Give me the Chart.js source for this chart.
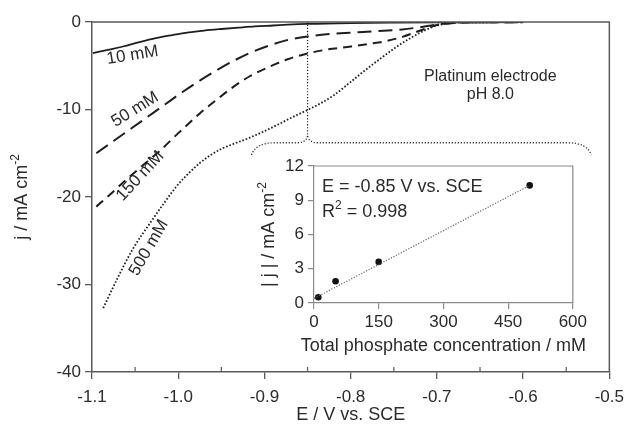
<!DOCTYPE html>
<html>
<head>
<meta charset="utf-8">
<script src="https://cdn.jsdelivr.net/npm/chart.js@4.4.0/dist/chart.umd.min.js"></script>
<style>
  html, body { margin: 0; padding: 0; background: #fff; }
  #wrap { position: relative; width: 632px; height: 435px; }
  #mainChart { position: absolute; left: 0; top: 0; }
  #insetChart { position: absolute; left: 240px; top: 150px; }
</style>
</head>
<body>
<div id="wrap">
  <canvas id="mainChart" width="632" height="435"></canvas>
  <canvas id="insetChart" width="350" height="215"></canvas>
</div>
<script>
// Polarisation curves, one per phosphate concentration (E in V vs. SCE, j in mA cm-2)
const potential10 = [-1.099, -1.08, -1.064, -1.045, -1.026, -1.007, -0.988, -0.97, -0.95, -0.93, -0.911, -0.89, -0.873, -0.85, -0.8, -0.75, -0.7, -0.6];
const current10 = [-3.55, -3.15, -2.8, -2.3, -1.85, -1.5, -1.19, -0.98, -0.8, -0.64, -0.5, -0.4, -0.31, -0.22, -0.12, -0.07, -0.04, -0.02];

const potential50 = [-1.095, -1.075, -1.055, -1.035, -1.015, -0.995, -0.975, -0.955, -0.935, -0.915, -0.895, -0.875, -0.85, -0.825, -0.8, -0.77, -0.74, -0.72, -0.7, -0.68, -0.65, -0.6];
const current50 = [-15.0, -13.6, -12.2, -10.8, -9.4, -8.0, -6.7, -5.5, -4.4, -3.45, -2.7, -2.1, -1.65, -1.38, -1.22, -1.05, -0.85, -0.6, -0.3, -0.1, -0.03, -0.02];

const potential150 = [-1.095, -1.08, -1.06, -1.04, -1.02, -1.0, -0.99, -0.975, -0.957, -0.938, -0.917, -0.894, -0.873, -0.85, -0.8275, -0.8, -0.775, -0.76, -0.74, -0.72, -0.7, -0.68, -0.65, -0.6];
const current150 = [-21.1, -19.8, -18.0, -16.3, -14.6, -12.7, -11.8, -10.45, -9.0, -7.55, -6.2, -5.1, -4.25, -3.6, -3.15, -2.8, -2.45, -2.2, -1.7, -1.0, -0.35, -0.1, -0.03, -0.02];

const potential500 = [-1.087, -1.07, -1.053, -1.03, -1.015, -1.003, -0.99, -0.976, -0.963, -0.95, -0.935, -0.919, -0.905, -0.89, -0.87, -0.85, -0.835, -0.82, -0.8, -0.785, -0.765, -0.747, -0.73, -0.715, -0.7, -0.68, -0.65, -0.6];
const current500 = [-32.7, -29.2, -26.0, -22.6, -20.5, -18.9, -17.5, -16.2, -15.25, -14.5, -13.9, -13.3, -12.7, -12.0, -11.0, -10.05, -9.3, -8.4, -6.85, -5.65, -4.15, -2.85, -1.8, -1.0, -0.4, -0.1, -0.03, -0.02];

// where the inset values are taken
const markerPotential = [-0.85, -0.85];
const markerCurrent = [0, -12.75];

// curve labels: text, E, j, angle in degrees
const curveLabels = [
  ['10 mM', -1.053, -3.8, -9],
  ['50 mM', -1.05, -10.0, -32],
  ['150 mM', -1.044, -17.6, -47],
  ['500 mM', -1.034, -25.8, -60]
];

// inset: |j| at -0.85 V against total phosphate
const concentration = [10, 50, 150, 500];
const absCurrent = [0.5, 1.9, 3.6, 10.3];
const fitConcentration = [0, 500];
const fitCurrent = [0.4, 10.3];

const ink = '#2b2b2b';
const axisGrey = '#5a5a5a';
const fontFamily = '"Liberation Sans", Arial, sans-serif';

function toPoints(xs, ys) {
  return xs.map((x, i) => ({ x: x, y: ys[i] }));
}

function curve(xs, ys, dash, width) {
  return {
    data: toPoints(xs, ys),
    showLine: true,
    borderColor: '#1e1e1e',
    borderWidth: width,
    borderDash: dash,
    pointRadius: 0,
    cubicInterpolationMode: 'monotone',
    fill: false
  };
}

// text with raised parts, e.g. cm-2
function drawRich(ctx, parts, x, y, size, align) {
  const small = Math.round(size * 0.65);
  let total = 0;
  parts.forEach(p => {
    ctx.font = (p.sup ? small : size) + 'px ' + fontFamily;
    p.w = ctx.measureText(p.t).width;
    total += p.w;
  });
  let cx = align === 'center' ? x - total / 2 : x;
  ctx.textAlign = 'left';
  ctx.textBaseline = 'alphabetic';
  parts.forEach(p => {
    ctx.font = (p.sup ? small : size) + 'px ' + fontFamily;
    ctx.fillText(p.t, cx, p.sup ? y - size * 0.42 : y);
    cx += p.w;
  });
}

const mainDecor = {
  id: 'mainDecor',
  afterDraw(chart) {
    const ctx = chart.ctx;
    const area = chart.chartArea;
    const xs = chart.scales.x;
    const ys = chart.scales.y;
    ctx.save();

    // top and right frame
    ctx.strokeStyle = axisGrey;
    ctx.lineWidth = 1.5;
    ctx.beginPath();
    ctx.moveTo(area.left, area.top);
    ctx.lineTo(area.right, area.top);
    ctx.lineTo(area.right, area.bottom);
    ctx.stroke();

    // minor ticks pointing inwards
    ctx.lineWidth = 1.2;
    [-1.05, -0.95, -0.85, -0.75, -0.65, -0.55].forEach(v => {
      const px = xs.getPixelForValue(v);
      ctx.beginPath();
      ctx.moveTo(px, area.bottom);
      ctx.lineTo(px, area.bottom - 5);
      ctx.stroke();
    });

    // brace under the marker line
    const L = xs.getPixelForValue(-0.915);
    const R = xs.getPixelForValue(-0.521);
    const T = xs.getPixelForValue(-0.85);
    const bar = ys.getPixelForValue(-13.8);
    const ends = ys.getPixelForValue(-15.2);
    const tip = ys.getPixelForValue(-12.75);
    ctx.strokeStyle = '#333';
    ctx.lineWidth = 1.3;
    ctx.setLineDash([1.2, 1.8]);
    ctx.beginPath();
    ctx.moveTo(L, ends);
    ctx.quadraticCurveTo(L + 4, bar, L + 24, bar);
    ctx.lineTo(T - 10, bar);
    ctx.quadraticCurveTo(T, bar, T, tip);
    ctx.quadraticCurveTo(T, bar, T + 10, bar);
    ctx.lineTo(R - 24, bar);
    ctx.quadraticCurveTo(R - 4, bar, R, ends);
    ctx.stroke();
    ctx.setLineDash([]);

    // curve labels
    ctx.fillStyle = ink;
    ctx.font = '17px ' + fontFamily;
    ctx.textAlign = 'center';
    ctx.textBaseline = 'middle';
    curveLabels.forEach(([text, e, j, angle]) => {
      ctx.save();
      ctx.translate(xs.getPixelForValue(e), ys.getPixelForValue(j));
      ctx.rotate(angle * Math.PI / 180);
      ctx.fillText(text, 0, 0);
      ctx.restore();
    });

    // electrode note
    ctx.font = '16px ' + fontFamily;
    ctx.fillText('Platinum electrode', xs.getPixelForValue(-0.638), ys.getPixelForValue(-6.2));
    ctx.fillText('pH 8.0', xs.getPixelForValue(-0.638), ys.getPixelForValue(-8.25));

    // axis titles
    drawRich(ctx, [{ t: 'E / V vs. SCE' }], (area.left + area.right) / 2, 420, 18, 'center');
    ctx.save();
    ctx.translate(27, (area.top + area.bottom) / 2);
    ctx.rotate(-Math.PI / 2);
    drawRich(ctx, [{ t: 'j / mA cm' }, { t: '-2', sup: true }], 0, 0, 18, 'center');
    ctx.restore();

    ctx.restore();
  }
};

new Chart(document.getElementById('mainChart'), {
  type: 'scatter',
  data: {
    datasets: [
      curve(potential10, current10, [], 1.8),
      curve(potential50, current50, [14, 7], 2),
      curve(potential150, current150, [9, 6], 2),
      curve(potential500, current500, [1.6, 1.9], 1.8),
      curve(markerPotential, markerCurrent, [1.2, 1.8], 1.2)
    ]
  },
  options: {
    responsive: false,
    animation: false,
    layout: { padding: { top: 22, right: 17, left: 0, bottom: 0 } },
    plugins: { legend: { display: false }, tooltip: { enabled: false } },
    scales: {
      x: {
        type: 'linear',
        min: -1.1,
        max: -0.5,
        ticks: {
          stepSize: 0.1,
          callback: v => Number(v).toFixed(1),
          color: ink,
          font: { family: fontFamily, size: 17 },
          padding: 8,
          maxRotation: 0
        },
        grid: { drawOnChartArea: false, tickLength: 7, color: axisGrey, lineWidth: 1.3 },
        border: { color: axisGrey, width: 1.5 },
        afterFit: s => { s.height = 63; }
      },
      y: {
        type: 'linear',
        min: -40,
        max: 0,
        ticks: {
          stepSize: 10,
          color: ink,
          font: { family: fontFamily, size: 17 },
          padding: 4
        },
        grid: { drawOnChartArea: false, tickLength: 7, color: axisGrey, lineWidth: 1.3 },
        border: { color: axisGrey, width: 1.5 },
        afterFit: s => { s.width = 92; }
      }
    }
  },
  plugins: [mainDecor]
});

const insetDecor = {
  id: 'insetDecor',
  afterDraw(chart) {
    const ctx = chart.ctx;
    const area = chart.chartArea;
    ctx.save();
    ctx.strokeStyle = '#8a8a8a';
    ctx.lineWidth = 1.2;
    ctx.beginPath();
    ctx.moveTo(area.left, area.top);
    ctx.lineTo(area.right, area.top);
    ctx.lineTo(area.right, area.bottom);
    ctx.stroke();

    ctx.fillStyle = ink;
    drawRich(ctx, [{ t: 'E = -0.85 V vs. SCE' }], area.left + 8, area.top + 26, 18, 'left');
    drawRich(ctx, [{ t: 'R' }, { t: '2', sup: true }, { t: ' = 0.998' }], area.left + 8, area.top + 51, 18, 'left');

    drawRich(ctx, [{ t: 'Total phosphate concentration / mM' }], (area.left + area.right) / 2, 201, 18, 'center');
    ctx.save();
    ctx.translate(34, (area.top + area.bottom) / 2);
    ctx.rotate(-Math.PI / 2);
    drawRich(ctx, [{ t: '| j | / mA cm' }, { t: '-2', sup: true }], 0, 0, 18, 'center');
    ctx.restore();
    ctx.restore();
  }
};

new Chart(document.getElementById('insetChart'), {
  type: 'scatter',
  data: {
    datasets: [
      {
        data: toPoints(fitConcentration, fitCurrent),
        showLine: true,
        borderColor: '#666',
        borderWidth: 1.2,
        borderDash: [1.2, 1.6],
        pointRadius: 0
      },
      {
        data: toPoints(concentration, absCurrent),
        pointRadius: 3.3,
        backgroundColor: '#111',
        borderWidth: 0
      }
    ]
  },
  options: {
    responsive: false,
    animation: false,
    layout: { padding: { top: 16, right: 9, left: 0, bottom: 0 } },
    plugins: { legend: { display: false }, tooltip: { enabled: false } },
    scales: {
      x: {
        type: 'linear',
        min: 0,
        max: 600,
        ticks: { stepSize: 150, color: ink, font: { family: fontFamily, size: 17 }, padding: 3, maxRotation: 0 },
        grid: { drawOnChartArea: false, tickLength: 6, color: '#8a8a8a', lineWidth: 1.2 },
        border: { color: '#8a8a8a', width: 1.2 },
        afterFit: s => { s.height = 62; }
      },
      y: {
        type: 'linear',
        min: 0,
        max: 12,
        ticks: { stepSize: 3, color: ink, font: { family: fontFamily, size: 17 }, padding: 4 },
        grid: { drawOnChartArea: false, tickLength: 6, color: '#8a8a8a', lineWidth: 1.2 },
        border: { color: '#8a8a8a', width: 1.2 },
        afterFit: s => { s.width = 74; }
      }
    }
  },
  plugins: [insetDecor]
});
</script>
</body>
</html>
